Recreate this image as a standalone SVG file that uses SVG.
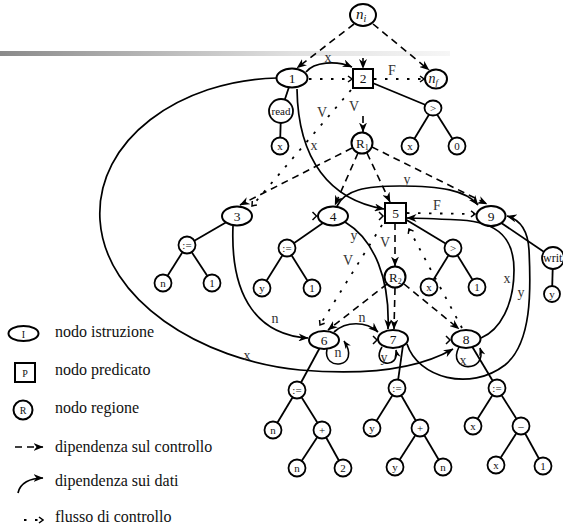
<svg xmlns="http://www.w3.org/2000/svg" width="563" height="527" viewBox="0 0 563 527">
  <defs>
    <linearGradient id="bar" x1="0" y1="0" x2="1" y2="0">
      <stop offset="0" stop-color="#8a8a8a"/>
      <stop offset="0.65" stop-color="#e0e0e0"/>
      <stop offset="1" stop-color="#f6f6f6"/>
    </linearGradient>
    <marker id="dd" viewBox="0 0 10 8" refX="9.5" refY="4" markerWidth="10" markerHeight="8" markerUnits="userSpaceOnUse" orient="auto">
      <path d="M0,0 L10,4 L0,8 L3,4 z" fill="#000"/>
    </marker>
    <marker id="dds" viewBox="0 0 10 8" refX="9.5" refY="4" markerWidth="8" markerHeight="6.5" markerUnits="userSpaceOnUse" orient="auto">
      <path d="M0,0 L10,4 L0,8 L3,4 z" fill="#000"/>
    </marker>
    <marker id="cf" viewBox="0 0 6 8" refX="5" refY="4" markerWidth="6" markerHeight="8" markerUnits="userSpaceOnUse" orient="auto">
      <path d="M1,1 L5,4 L1,7" fill="none" stroke="#000" stroke-width="1.5"/>
    </marker>
    <style>
      .solid { fill: none; stroke: #000; stroke-width: 1.8; }
      .data { fill: none; stroke: #000; stroke-width: 1.7; marker-end: url(#dd); }
      .loop { fill: none; stroke: #000; stroke-width: 1.6; marker-end: url(#dds); }
      .ctrl { fill: none; stroke: #000; stroke-width: 1.6; stroke-dasharray: 7 5; marker-end: url(#dd); }
      .flow { fill: none; stroke: #000; stroke-width: 1.8; stroke-dasharray: 2.5 8.5; marker-end: url(#cf); }
      .chev { fill: none; stroke: #000; stroke-width: 1.5; }
      .shape { fill: #fff; stroke: #000; stroke-width: 2; }
      .leafc { fill: #fff; stroke: #000; stroke-width: 1.8; }
      text { font-family: "Liberation Serif", "Times New Roman", serif; fill: #111; }
      .num { font-size: 13.5px; text-anchor: middle; }
      .leaf { font-size: 11px; text-anchor: middle; }
      .lbl { font-size: 14px; text-anchor: middle; fill: #333; }
      .leg { font-size: 16px; }
    </style>
  </defs>

  <rect x="0" y="51" width="450" height="5" fill="url(#bar)"/>

  <!-- connectors -->
  <g id="connectors">
    <!-- syntax-tree edges -->
    <g class="tree">
      <line class="solid" x1="292" y1="78" x2="281" y2="111"/>
      <line class="solid" x1="281" y1="111" x2="280" y2="146"/>
      <line class="solid" x1="363" y1="79" x2="433" y2="108"/>
      <line class="solid" x1="433" y1="108" x2="410" y2="146"/>
      <line class="solid" x1="433" y1="108" x2="457" y2="146"/>
      <line class="solid" x1="237" y1="216" x2="187" y2="245"/>
      <line class="solid" x1="187" y1="245" x2="163" y2="283"/>
      <line class="solid" x1="187" y1="245" x2="212" y2="283"/>
      <line class="solid" x1="333" y1="216" x2="287" y2="248"/>
      <line class="solid" x1="287" y1="248" x2="262" y2="288"/>
      <line class="solid" x1="287" y1="248" x2="312" y2="288"/>
      <line class="solid" x1="395" y1="213" x2="453" y2="248"/>
      <line class="solid" x1="453" y1="248" x2="429" y2="287"/>
      <line class="solid" x1="453" y1="248" x2="477" y2="287"/>
      <line class="solid" x1="491" y1="216" x2="553" y2="258"/>
      <line class="solid" x1="553" y1="258" x2="552" y2="294"/>
      <line class="solid" x1="324" y1="340" x2="297" y2="390"/>
      <line class="solid" x1="297" y1="390" x2="273" y2="430"/>
      <line class="solid" x1="297" y1="390" x2="322" y2="430"/>
      <line class="solid" x1="322" y1="430" x2="297" y2="468"/>
      <line class="solid" x1="322" y1="430" x2="343" y2="468"/>
      <line class="solid" x1="403" y1="345" x2="397" y2="388"/>
      <line class="solid" x1="397" y1="388" x2="372" y2="428"/>
      <line class="solid" x1="397" y1="388" x2="420" y2="428"/>
      <line class="solid" x1="420" y1="428" x2="395" y2="467"/>
      <line class="solid" x1="420" y1="428" x2="443" y2="467"/>
      <line class="solid" x1="470" y1="343" x2="497" y2="388"/>
      <line class="solid" x1="497" y1="388" x2="473" y2="426"/>
      <line class="solid" x1="497" y1="388" x2="521" y2="426"/>
      <line class="solid" x1="521" y1="426" x2="496" y2="465"/>
      <line class="solid" x1="521" y1="426" x2="543" y2="466"/>
    </g>

    <!-- control dependences -->
    <g class="control">
      <path class="ctrl" d="M354,24 L297,68"/>
      <path class="ctrl" d="M373,24 L429,70"/>
      <path class="ctrl" d="M363,58 L363,68.5"/>
      <path class="ctrl" d="M363,116 L363,132"/>
      <path class="ctrl" d="M352,148 L240,205"/>
      <path class="ctrl" d="M358,153 L335,205"/>
      <path class="ctrl" d="M367,153 L390,202"/>
      <path class="ctrl" d="M372,147 L487,204"/>
      <path class="ctrl" d="M395,223 L395,266"/>
      <path class="ctrl" d="M387,284 L328,330"/>
      <path class="ctrl" d="M395,288 L394,329"/>
      <path class="ctrl" d="M404,284 L459,329"/>
    </g>

    <!-- control flow -->
    <g class="flowg">
      <path class="flow" d="M309,79 L352,79"/>
      <path class="flow" d="M374,79 L424,79"/>
      <path class="flow" d="M351,90 L252,206"/>
      <path class="flow" d="M407,213 L475,214"/>
      <path class="flow" d="M382,225 L320,325"/>
      <path class="flow" d="M462,328 L409,229"/>
      <path class="chev" d="M312.5,212 L316.5,216 L312.5,220"/>
      <path class="chev" d="M379,212 L383,216 L379,220"/>
      <path class="chev" d="M373,336 L377,340 L373,344"/>
      <path class="chev" d="M446,336 L450,340 L446,344"/>
    </g>

    <!-- data dependences -->
    <g class="datag">
      <path class="data" d="M306,72 C314,62 336,60 352,67"/>
      <path class="data" d="M297,89 C298,160 330,200 384,209"/>
      <path class="data" d="M277,78 C180,80 95,140 100,220 C105,300 200,360 300,370 C370,376 420,368 453,349"/>
      <path class="data" d="M233,226 C230,300 260,335 308,338"/>
      <path class="data" d="M345,222 C375,240 390,280 388,329"/>
      <path class="data" d="M337,206 C345,190 365,186 400,186 C440,186 466,190 478,205"/>
      <path class="data" d="M334,332 C346,321 366,321 378,332"/>
      <path class="data" d="M407,344 C418,378 470,392 505,365 C532,343 531,290 529,250 C528,232 522,220 507,216"/>
      <path class="data" d="M481,338 C500,330 514,305 514,270 C514,240 500,222 460,220 C440,219 420,218 407,218"/>
      <path class="loop" d="M327,349 C322,372 362,368 344,341"/>
      <path class="loop" d="M382,347 C370,366 400,370 396,350"/>
      <path class="loop" d="M459,347 C446,372 488,374 480,348"/>
    </g>

    <!-- edge labels -->
    <g class="labels">
      <text class="lbl" x="328" y="62">x</text>
      <text class="lbl" x="392" y="75">F</text>
      <text class="lbl" x="322" y="117">V</text>
      <text class="lbl" x="354" y="111">V</text>
      <text class="lbl" x="314" y="150">x</text>
      <text class="lbl" x="407" y="184">y</text>
      <text class="lbl" x="437" y="210">F</text>
      <text class="lbl" x="354" y="240">y</text>
      <text class="lbl" x="385" y="247">V</text>
      <text class="lbl" x="348" y="265">V</text>
      <text class="lbl" x="275" y="323">n</text>
      <text class="lbl" x="362" y="322">n</text>
      <text class="lbl" x="247" y="360">x</text>
      <text class="lbl" x="338" y="357">n</text>
      <text class="lbl" x="384" y="362">y</text>
      <text class="lbl" x="463" y="365">x</text>
      <text class="lbl" x="507" y="283">x</text>
      <text class="lbl" x="521" y="297">y</text>
    </g>
  </g>

  <!-- nodes -->
  <g id="n-init"><ellipse class="shape" cx="363" cy="15" rx="13" ry="11"/><text x="356" y="19" font-size="15" font-style="italic">n<tspan font-size="10" dy="3">i</tspan></text></g>
  <g id="n-final"><ellipse class="shape" cx="436" cy="79" rx="11" ry="9.5"/><text x="428.5" y="82.5" font-size="14" font-style="italic">n<tspan font-size="9" dy="2">f</tspan></text></g>
  <g id="node-1"><ellipse class="shape" cx="292" cy="78" rx="15.5" ry="9.5"/><text class="num" x="292" y="82.5">1</text></g>
  <g id="node-2"><rect class="shape" x="353" y="69" width="20" height="19"/><text class="num" x="363" y="83">2</text></g>
  <g id="node-read"><circle class="leafc" cx="281" cy="111" r="12"/><text class="leaf" x="281" y="115" font-size="12">read</text></g>
  <g id="leaf-read-x"><circle class="leafc" cx="280" cy="146" r="8.5"/><text class="leaf" x="280" y="150">x</text></g>
  <g id="node-gt1"><ellipse class="leafc" cx="433" cy="108" rx="8.5" ry="7.5"/><text class="leaf" x="433" y="112">&gt;</text></g>
  <g id="leaf-gt1-x"><circle class="leafc" cx="410" cy="146" r="8.5"/><text class="leaf" x="410" y="150">x</text></g>
  <g id="leaf-gt1-0"><circle class="leafc" cx="457" cy="146" r="8.5"/><text class="leaf" x="457" y="150">0</text></g>
  <g id="region-1"><circle class="shape" cx="362" cy="143" r="10.5"/><text x="356" y="148" font-size="13">R<tspan font-size="8" dy="2">1</tspan></text></g>

  <g id="node-3"><ellipse class="shape" cx="237" cy="216" rx="15" ry="9.5"/><text class="num" x="237" y="220.5">3</text></g>
  <g id="leaf-3-assign"><circle class="leafc" cx="187" cy="245" r="8.5"/><text class="leaf" x="187" y="249">:=</text></g>
  <g id="leaf-3-n"><circle class="leafc" cx="163" cy="283" r="8.5"/><text class="leaf" x="163" y="287">n</text></g>
  <g id="leaf-3-1"><circle class="leafc" cx="212" cy="283" r="8.5"/><text class="leaf" x="212" y="287">1</text></g>

  <g id="node-4"><ellipse class="shape" cx="333" cy="216" rx="15" ry="9.5"/><text class="num" x="333" y="220.5">4</text></g>
  <g id="leaf-4-assign"><circle class="leafc" cx="287" cy="248" r="8.5"/><text class="leaf" x="287" y="252">:=</text></g>
  <g id="leaf-4-y"><circle class="leafc" cx="262" cy="288" r="8.5"/><text class="leaf" x="262" y="292">y</text></g>
  <g id="leaf-4-1"><circle class="leafc" cx="312" cy="288" r="8.5"/><text class="leaf" x="312" y="292">1</text></g>

  <g id="node-5"><rect class="shape" x="385" y="203" width="21" height="20"/><text class="num" x="395.5" y="217.5">5</text></g>
  <g id="node-gt5"><circle class="leafc" cx="453" cy="248" r="8.5"/><text class="leaf" x="453" y="252">&gt;</text></g>
  <g id="leaf-gt5-x"><circle class="leafc" cx="429" cy="287" r="8.5"/><text class="leaf" x="429" y="291">x</text></g>
  <g id="leaf-gt5-1"><circle class="leafc" cx="477" cy="287" r="8.5"/><text class="leaf" x="477" y="291">1</text></g>

  <g id="node-9"><ellipse class="shape" cx="491" cy="216" rx="14.5" ry="10"/><text class="num" x="491" y="220.5">9</text></g>
  <g id="node-write"><circle class="leafc" cx="553" cy="258" r="11"/><text x="543" y="262" font-size="12">writ</text></g>
  <g id="leaf-write-y"><circle class="leafc" cx="552" cy="294" r="8"/><text class="leaf" x="552" y="298">y</text></g>

  <g id="region-2"><circle class="shape" cx="395" cy="277" r="10.5"/><text x="389" y="282" font-size="13">R<tspan font-size="8" dy="2">2</tspan></text></g>

  <g id="node-6"><ellipse class="shape" cx="324" cy="340" rx="15" ry="9"/><text class="num" x="324" y="344.5">6</text></g>
  <g id="leaf-6-assign"><circle class="leafc" cx="297" cy="390" r="8.5"/><text class="leaf" x="297" y="394">:=</text></g>
  <g id="leaf-6-n"><circle class="leafc" cx="273" cy="430" r="8.5"/><text class="leaf" x="273" y="434">n</text></g>
  <g id="leaf-6-plus"><circle class="leafc" cx="322" cy="430" r="8.5"/><text class="leaf" x="322" y="434">+</text></g>
  <g id="leaf-6-n2"><circle class="leafc" cx="297" cy="468" r="8.5"/><text class="leaf" x="297" y="472">n</text></g>
  <g id="leaf-6-2"><circle class="leafc" cx="343" cy="468" r="8.5"/><text class="leaf" x="343" y="472">2</text></g>

  <g id="node-7"><ellipse class="shape" cx="393" cy="339" rx="15" ry="9"/><text class="num" x="393" y="343.5">7</text></g>
  <g id="leaf-7-assign"><circle class="leafc" cx="397" cy="388" r="8.5"/><text class="leaf" x="397" y="392">:=</text></g>
  <g id="leaf-7-y"><circle class="leafc" cx="372" cy="428" r="8.5"/><text class="leaf" x="372" y="432">y</text></g>
  <g id="leaf-7-plus"><circle class="leafc" cx="420" cy="428" r="8.5"/><text class="leaf" x="420" y="432">+</text></g>
  <g id="leaf-7-y2"><circle class="leafc" cx="395" cy="467" r="8.5"/><text class="leaf" x="395" y="471">y</text></g>
  <g id="leaf-7-n"><circle class="leafc" cx="443" cy="467" r="8.5"/><text class="leaf" x="443" y="471">n</text></g>

  <g id="node-8"><ellipse class="shape" cx="466" cy="339" rx="14.5" ry="9"/><text class="num" x="466" y="343.5">8</text></g>
  <g id="leaf-8-assign"><circle class="leafc" cx="497" cy="388" r="8.5"/><text class="leaf" x="497" y="392">:=</text></g>
  <g id="leaf-8-x"><circle class="leafc" cx="473" cy="426" r="8.5"/><text class="leaf" x="473" y="430">x</text></g>
  <g id="leaf-8-minus"><circle class="leafc" cx="521" cy="426" r="8.5"/><text class="leaf" x="521" y="430">–</text></g>
  <g id="leaf-8-x2"><circle class="leafc" cx="496" cy="465" r="8.5"/><text class="leaf" x="496" y="469">x</text></g>
  <g id="leaf-8-1"><circle class="leafc" cx="543" cy="466" r="8.5"/><text class="leaf" x="543" y="470">1</text></g>

  <!-- legend -->
  <g id="legend">
    <ellipse class="shape" cx="23.5" cy="333.5" rx="15" ry="7.5" stroke-width="1.6"/>
    <text x="23.5" y="337.5" font-size="10" text-anchor="middle">I</text>
    <text class="leg" x="55" y="337">nodo istruzione</text>
    <rect class="shape" x="15" y="363" width="20" height="19" stroke-width="1.6"/>
    <text x="25" y="376.5" font-size="10" text-anchor="middle">P</text>
    <text class="leg" x="55" y="375">nodo predicato</text>
    <circle class="shape" cx="23" cy="410" r="9.5" stroke-width="1.6"/>
    <text x="23" y="414" font-size="10" text-anchor="middle">R</text>
    <text class="leg" x="55" y="413">nodo regione</text>
    <path class="ctrl" d="M15,447 L43,447"/>
    <text class="leg" x="55" y="452">dipendenza sul controllo</text>
    <path class="data" d="M18,493 C20,483 30,478 43,478"/>
    <text class="leg" x="55" y="486">dipendenza sui dati</text>
    <path class="flow" d="M24,520 L43,520"/>
    <text class="leg" x="55" y="522">flusso di controllo</text>
  </g>
</svg>
